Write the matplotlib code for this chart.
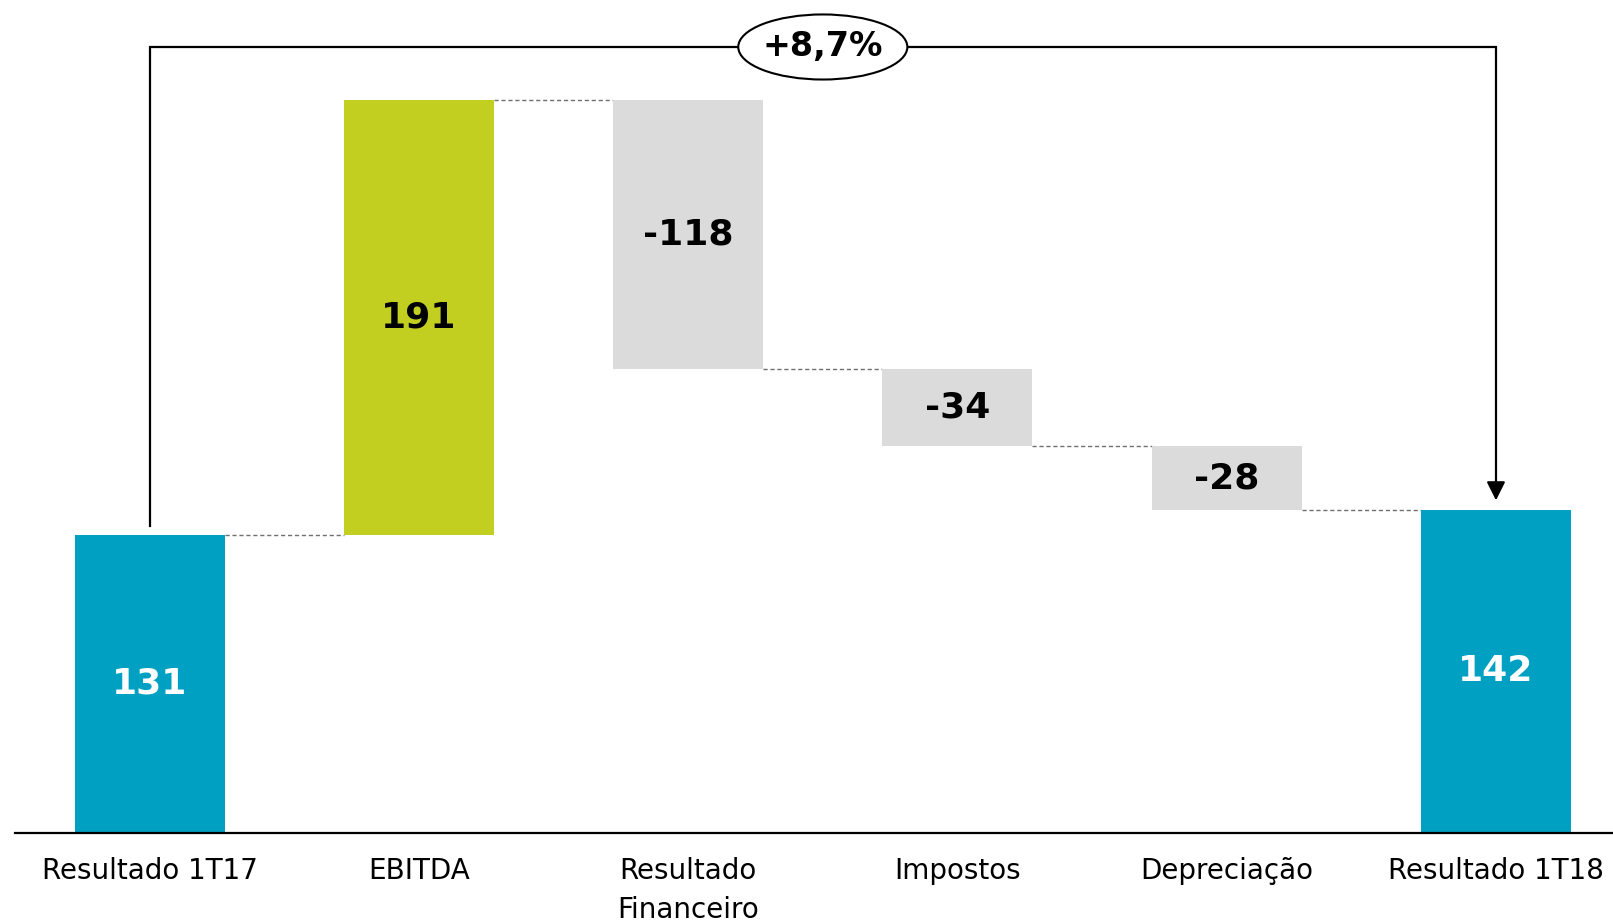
import matplotlib.pyplot as plt
from matplotlib.patches import Ellipse

categories = ['Resultado 1T17', 'EBITDA', 'Resultado\nFinanceiro', 'Impostos', 'Depreciação', 'Resultado 1T18']
values = [131, 191, -118, -34, -28, 142]
kinds = ['total', 'delta', 'delta', 'delta', 'delta', 'total']
value_labels = ['131', '191', '-118', '-34', '-28', '142']
growth_label = '+8,7%'

teal = '#00A0C3'
green = '#C2CF21'
grey = '#DBDBDB'

plt.rcParams['font.family'] = ['DejaVu Sans']

fig = plt.figure(figsize=(16.13, 9.23), dpi=100, facecolor='white')
ax = fig.add_axes([15 / 1613, 90 / 923, 1 - 15 / 1613, 1 - 90 / 923])

# waterfall bottoms / tops
bottoms, tops = [], []
running = 0
for v, k in zip(values, kinds):
    if k == 'total':
        bottoms.append(0)
        tops.append(v)
        running = v
    else:
        lo, hi = sorted([running, running + v])
        bottoms.append(lo)
        tops.append(hi)
        running += v

width = 0.557
x = list(range(len(categories)))
for i, (v, k) in enumerate(zip(values, kinds)):
    if k == 'total':
        color, tcolor = teal, 'white'
    elif v > 0:
        color, tcolor = green, 'black'
    else:
        color, tcolor = grey, 'black'
    ax.bar(i, tops[i] - bottoms[i], bottom=bottoms[i], width=width, color=color, zorder=2)
    ax.text(i, (tops[i] + bottoms[i]) / 2, value_labels[i], ha='center', va='center',
            fontsize=26, fontweight='bold', color=tcolor, zorder=3)

# dashed connectors
running = 0
for i in range(len(values) - 1):
    running = values[i] if kinds[i] == 'total' else running + values[i]
    ax.plot([i + width / 2, i + 1 - width / 2], [running, running], color='#707070',
            lw=1.0, ls=(0, (3, 2)), zorder=1)

# bracket with growth
top_y = 345.5
ax.plot([0, 0, 5, 5], [135, top_y, top_y, 152], color='black', lw=1.6, zorder=2,
        solid_joinstyle='miter')
ax.annotate('', xy=(5, tops[-1] + 3), xytext=(5, 156),
            arrowprops=dict(arrowstyle='-|>', color='black', lw=1.6, mutation_scale=28))
ell = Ellipse((2.5, top_y), 0.628, 28.6, facecolor='white', edgecolor='black', lw=1.5, zorder=4)
ax.add_patch(ell)
ax.text(2.5, top_y, growth_label, ha='center', va='center', fontsize=24, fontweight='bold', zorder=5)

ax.set_xlim(-0.5, (1613 - 150) / 269.2)
ax.set_ylim(0, 833 / 2.275)
ax.set_xticks(x)
ax.set_xticklabels(categories, fontsize=20, linespacing=1.5, va='top')
ax.tick_params(axis='x', length=0, pad=17)
ax.set_yticks([])
for s in ['top', 'right', 'left']:
    ax.spines[s].set_visible(False)
ax.spines['bottom'].set_linewidth(1.6)
ax.set_facecolor('white')

plt.savefig('out.png', dpi=100, facecolor='white')
